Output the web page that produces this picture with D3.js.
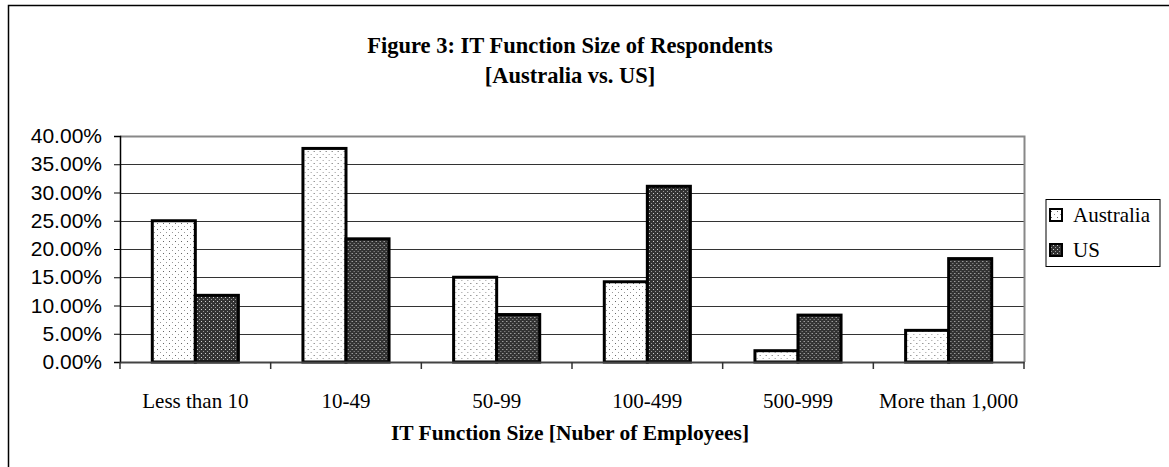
<!DOCTYPE html>
<head>
	<meta charset="utf-8">
	<title>IT Function Size of Respondents</title>
	<script src="https://cdn.jsdelivr.net/npm/d3@7"></script>
	<style>
		body { margin: 0; background: white; }
		.serif { font-family: 'Liberation Serif', 'Times New Roman', serif; }
		.ylab { font-family: 'Liberation Sans', Arial, sans-serif; font-size: 21px; }
	</style>
</head>
<body>
	<script>
		var categories = ["Less than 10", "10-49", "50-99", "100-499", "500-999", "More than 1,000"];
		var series = ["Australia", "US"];
		var australia = [25.0, 37.8, 15.0, 14.2, 2.0, 5.6];
		var us = [11.8, 21.8, 8.4, 31.1, 8.3, 18.3];
		var yTicks = [0, 5, 10, 15, 20, 25, 30, 35, 40];

		var width = 1169, height = 467;
		var pLeft = 120, pRight = 1024, pTop = 136, pBottom = 362;

		var svg = d3.select("body").append("svg")
			.attr("width", width)
			.attr("height", height);

		// patterns for the two series
		var defs = svg.append("defs");
		var pa = defs.append("pattern").attr("id", "dots")
			.attr("patternUnits", "userSpaceOnUse").attr("width", 6).attr("height", 6);
		pa.append("rect").attr("width", 6).attr("height", 6).attr("fill", "white");
		pa.append("rect").attr("x", 1).attr("y", 1).attr("width", 1).attr("height", 1).attr("fill", "#666");
		pa.append("rect").attr("x", 4).attr("y", 4).attr("width", 1).attr("height", 1).attr("fill", "#999");

		var pu = defs.append("pattern").attr("id", "hatch")
			.attr("patternUnits", "userSpaceOnUse").attr("width", 4).attr("height", 4);
		pu.append("rect").attr("width", 4).attr("height", 4).attr("fill", "#333");
		pu.append("rect").attr("x", 1).attr("y", 1).attr("width", 1).attr("height", 1).attr("fill", "#d0d0d0");
		pu.append("rect").attr("x", 3).attr("y", 3).attr("width", 1).attr("height", 1).attr("fill", "#999");

		var fills = {"Australia": "url(#dots)", "US": "url(#hatch)"};

		// outer frame (right and bottom fall outside the picture)
		svg.append("rect")
			.attr("x", 8.5).attr("y", 5.5)
			.attr("width", 1180).attr("height", 480)
			.attr("fill", "none").attr("stroke", "#000").attr("stroke-width", 1.5);

		var x0 = d3.scaleBand().domain(categories).range([pLeft, pRight]);
		var x1 = d3.scaleBand().domain(series).range([0, x0.bandwidth()]).paddingOuter(0.75);
		var y = d3.scaleLinear().domain([0, 40]).range([pBottom, pTop]);

		// gridlines
		svg.append("g").selectAll("line")
			.data(yTicks.slice(1, -1))
			.enter().append("line")
				.attr("x1", pLeft).attr("x2", pRight)
				.attr("y1", function(d) { return Math.round(y(d)) + 0.5; })
				.attr("y2", function(d) { return Math.round(y(d)) + 0.5; })
				.attr("stroke", "#333").attr("stroke-width", 1);

		// plot area border top and right
		svg.append("path")
			.attr("d", "M" + pLeft + "," + (pTop + 0.5) + "H" + (pRight + 0.5) + "V" + pBottom)
			.attr("fill", "none").attr("stroke", "#888").attr("stroke-width", 2);

		// bars
		var rows = categories.map(function(c, i) {
			return {cat: c, vals: [{s: "Australia", v: australia[i]}, {s: "US", v: us[i]}]};
		});
		svg.append("g").selectAll("g")
			.data(rows)
			.enter().append("g")
				.attr("transform", function(d) { return "translate(" + x0(d.cat) + ",0)"; })
			.selectAll("rect")
			.data(function(d) { return d.vals; })
			.enter().append("rect")
				.attr("x", function(d) { return x1(d.s); })
				.attr("y", function(d) { return y(d.v); })
				.attr("width", x1.bandwidth())
				.attr("height", function(d) { return pBottom - y(d.v); })
				.attr("fill", function(d) { return fills[d.s]; })
				.attr("stroke", "#000").attr("stroke-width", 3);

		// y axis
		var yAxis = svg.append("g")
			.attr("transform", "translate(" + pLeft + ",0)")
			.call(d3.axisLeft(y).tickValues(yTicks).tickSize(6).tickPadding(12)
				.tickFormat(function(d) { return d.toFixed(2) + "%"; }));
		yAxis.select(".domain").attr("stroke", "#000").attr("stroke-width", 1.5);
		yAxis.selectAll("text").attr("class", "ylab").attr("fill", "#000").attr("font-size", null).attr("font-family", null);

		// x axis
		var xAxis = svg.append("g")
			.attr("transform", "translate(0," + pBottom + ")")
			.call(d3.axisBottom(x0).tickSize(0).tickPadding(31));
		xAxis.select(".domain").attr("stroke", "#444").attr("stroke-width", 2);
		xAxis.selectAll("text")
			.attr("class", "serif").attr("font-size", 21).attr("font-family", null).attr("fill", "#000");
		// category boundary ticks
		svg.append("g").selectAll("line")
			.data(categories.concat(["end"]))
			.enter().append("line")
				.attr("x1", function(d, i) { return i < categories.length ? x0(d) : pRight; })
				.attr("x2", function(d, i) { return i < categories.length ? x0(d) : pRight; })
				.attr("y1", pBottom).attr("y2", pBottom + 7)
				.attr("stroke", "#333").attr("stroke-width", 1.5);

		// titles
		svg.append("text").attr("class", "serif")
			.attr("x", 570).attr("y", 53)
			.attr("text-anchor", "middle").attr("font-weight", "bold").attr("font-size", 22.5)
			.text("Figure 3: IT Function Size of Respondents");
		svg.append("text").attr("class", "serif")
			.attr("x", 570).attr("y", 83)
			.attr("text-anchor", "middle").attr("font-weight", "bold").attr("font-size", 22.5)
			.text("[Australia vs. US]");
		svg.append("text").attr("class", "serif")
			.attr("x", 570).attr("y", 440)
			.attr("text-anchor", "middle").attr("font-weight", "bold").attr("font-size", 21.5)
			.text("IT Function Size [Nuber of Employees]");

		// legend
		var lg = svg.append("g");
		lg.append("rect")
			.attr("x", 1046).attr("y", 199.5).attr("width", 114).attr("height", 67)
			.attr("fill", "white").attr("stroke", "#000").attr("stroke-width", 1);
		lg.selectAll("g.item")
			.data(series)
			.enter().append("g").attr("class", "item")
				.each(function(d, i) {
					var g = d3.select(this);
					var yy = 222 + i * 35;
					g.append("rect")
						.attr("x", 1050).attr("y", yy - 13).attr("width", 12).attr("height", 12)
						.attr("fill", fills[d]).attr("stroke", "#000").attr("stroke-width", 2);
					g.append("text").attr("class", "serif")
						.attr("x", 1073).attr("y", yy).attr("font-size", 21)
						.text(d);
				});
	</script>
</body>
